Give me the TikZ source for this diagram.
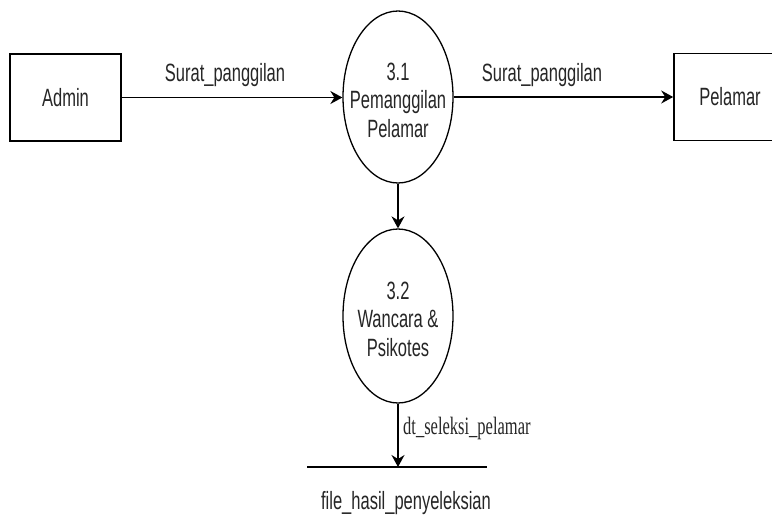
\documentclass[tikz,border=0pt]{standalone}
\usepackage{fontspec}
\usetikzlibrary{shapes.geometric,arrows.meta}
\newfontfamily\dfdsans[FakeStretch=0.66]{Liberation Sans}
\newfontfamily\dfdserif[FakeStretch=0.66]{Liberation Serif}
\begin{document}
\begin{tikzpicture}[x=1pt,y=-1pt,
  entity/.style={draw,line width=1.6pt,minimum width=111pt,minimum height=87pt,inner sep=0pt,text=black!85,font=\dfdsans\fontsize{25}{27}\selectfont},
  process/.style={draw,ellipse,line width=1.3pt,minimum width=110pt,minimum height=172pt,inner sep=0pt},
  ptext/.style={align=center,inner sep=0pt,text=black!85,font=\dfdsans\fontsize{25}{28.5}\selectfont},
  flow/.style={line width=1.5pt,-{Stealth[length=12pt,width=13pt,inset=4pt]}},
  lbl/.style={font=\dfdsans\fontsize{25}{27}\selectfont,inner sep=0pt,text=black!85},
  slbl/.style={font=\dfdserif\fontsize{25}{27}\selectfont,inner sep=0pt,text=black!85}]
\clip (0,0) rectangle (772,528);
\fill[white] (0,0) rectangle (772,528);

% external entities
\node[entity] (admin) at (65.5,97.5) {Admin};
\node[entity,minimum width=112pt] (pelamar) at (730,97) {Pelamar};

% processes
\node[process] (p31) at (398,97) {};
\node[ptext] (p31t) at (398,100) {3.1\\Pemanggilan\\Pelamar};
\node[process,minimum height=174pt] (p32) at (398,316) {};
\node[ptext] (p32t) at (398,319) {3.2\\Wancara \&\\Psikotes};

% data store (open line)
\coordinate (storeL) at (307,467);
\coordinate (storeR) at (487,467);
\coordinate (storeIn) at (398,467);
\draw[line width=1.5pt] (storeL) -- (storeR);
\node[lbl] (storename) at (406,503) {file\_hasil\_penyeleksian};

% flows
\draw[flow] (admin.east) -- (admin.east -| p31.west);
\draw[flow] (p31.east) -- (p31.east -| pelamar.west);
\draw[flow] (p31.south) -- (p32.north);
\draw[flow] (p32.south) -- (storeIn);

% flow labels
\node[lbl] (l1) at (225,75) {Surat\_panggilan};
\node[lbl] (l2) at (542,75) {Surat\_panggilan};
\node[slbl,anchor=west] (l3) at (403,428) {dt\_seleksi\_pelamar};
\end{tikzpicture}
\end{document}
